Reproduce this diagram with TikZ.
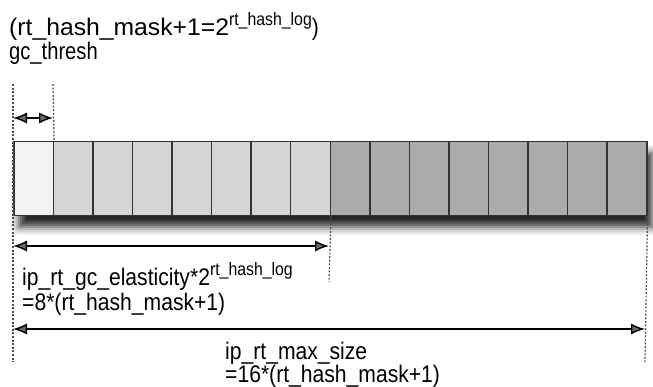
\documentclass[tikz,border=0pt]{standalone}
\usepackage{fontspec}
\setmainfont{Liberation Sans}
\usetikzlibrary{arrows.meta,shadows.blur}
\newcommand{\supx}[1]{\raisebox{0.42em}{\fontsize{18}{18}\selectfont #1}}
\newcommand{\narrow}[2][0.88]{\scalebox{#1}[1]{#2}}
\begin{document}
\begin{tikzpicture}[x=1pt,y=-1pt,
  lbl/.style={font=\fontsize{24}{26}\selectfont, inner sep=0pt, anchor=base west},
  cellA/.style={fill=black!5},
  cellB/.style={fill=black!17},
  cellC/.style={fill=black!33},
  tip/.style={},
  dim/.style={line width=1.4pt, {Latex[length=14pt,width=11pt]}-{Latex[length=14pt,width=11pt]}},
  guide/.style={line width=1.2pt, black!70, dash pattern=on 2pt off 1.6pt}]
\useasboundingbox (0,0) rectangle (653,387);
% shadow
\fill[blur shadow={shadow xshift=6pt, shadow yshift=-12pt, shadow blur radius=8pt, shadow opacity=85}, white] (13,141) rectangle (646,215);
% cells
\foreach \i in {0,...,15} {
  \pgfmathsetmacro{\xa}{13+\i*39.5625}
  \ifnum\i=0 \def\st{cellA}\else\ifnum\i<8 \def\st{cellB}\else\def\st{cellC}\fi\fi
  \node[\st, draw=black!80, line width=1.5pt, minimum width=39.5625pt, minimum height=74pt, inner sep=0pt, anchor=north west] (c\i) at (\xa,141) {};
}
% guides
\coordinate (g1t) at (13,84);
\coordinate (g1b) at (13,362);
\coordinate (g2t) at (53,84);
\coordinate (g3b) at (329,282);
\coordinate (g4b) at (645,362);
\draw[guide] (g1t) -- (g1b);
\draw[guide] (g2t) -- (c0.north east);
\draw[guide] (c7.south east) -- (g3b);
\draw[guide] (c15.south east) -- (g4b);
% dimension arrows
\coordinate (a1l) at (13,118); \coordinate (a1r) at (53,118);
\coordinate (a2l) at (13,246); \coordinate (a2r) at (329,246);
\coordinate (a3l) at (13,329); \coordinate (a3r) at (645,329);
\draw[dim] (a1l) -- (a1r);
\draw[dim] (a2l) -- (a2r);
\draw[dim] (a3l) -- (a3r);
% labels
\node[lbl] (t1) at (9,36) {\narrow[1.03]{(rt\_hash\_mask+1=2}\narrow{\supx{rt\_hash\_log})}};
\node[lbl] (t2) at (9,60) {\narrow[0.84]{gc\_thresh}};
\node[lbl] (t3) at (22,286) {\narrow{ip\_rt\_gc\_elasticity*2\supx{rt\_hash\_log}}};
\node[lbl] (t4) at (22,310) {\narrow{=8*(rt\_hash\_mask+1)}};
\node[lbl] (t5) at (225,359) {\narrow{ip\_rt\_max\_size}};
\node[lbl] (t6) at (225,382) {\narrow{=16*(rt\_hash\_mask+1)}};
\end{tikzpicture}
\end{document}
